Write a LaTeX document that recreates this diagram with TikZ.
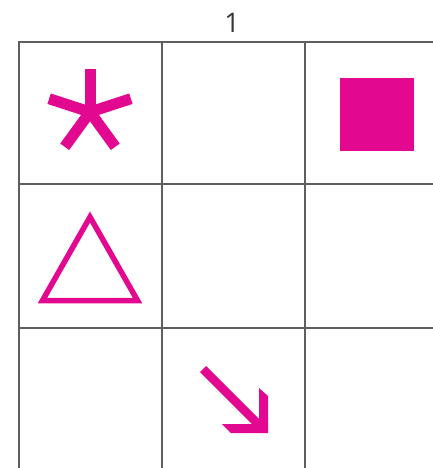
\documentclass[tikz,border=0pt]{standalone}
\usepackage{fontspec}
\setmainfont{Open Sans}
\usetikzlibrary{positioning}
\definecolor{grid}{HTML}{5E5E5E}
\definecolor{magenta}{HTML}{E2088F}
\definecolor{ink}{HTML}{333333}

\begin{document}
\begin{tikzpicture}[x=1pt,y=-1pt,
  gridline/.style={draw=grid,line width=2.6pt},
  arm/.style={draw=magenta,line width=11pt},
  lbl/.style={font=\fontsize{27}{30}\selectfont,text=ink,inner sep=0pt}
]
  \useasboundingbox (0,0) rectangle (433,468);
  % grid
  \foreach \x in {19,162,305} \draw[gridline] (\x,42) -- (\x,468);
  \foreach \y in {42,184,328} \draw[gridline] (18,\y) -- (433,\y);
  \node[lbl] (colnum) at (232,23) {1};
  % asterisk
  \coordinate (star) at (90,112);
  \foreach \a in {270,342,54,126,198} \draw[arm] (star) -- ++(\a:43);
  % square
  \fill[magenta] (340,78) rectangle (414,151);
  % triangle
  \draw[draw=magenta,line width=5.5pt,miter limit=10] (90,217) -- (137.5,300.5) -- (42.5,300.5) -- cycle;
  % arrow
  \draw[arm,line width=8.5pt] (203,369) -- (262,428);
  \fill[magenta] (259,388) -- (268,396) -- (268,433) -- (231,433) -- (222,424) -- (259,424) -- cycle;
\end{tikzpicture}
\end{document}
